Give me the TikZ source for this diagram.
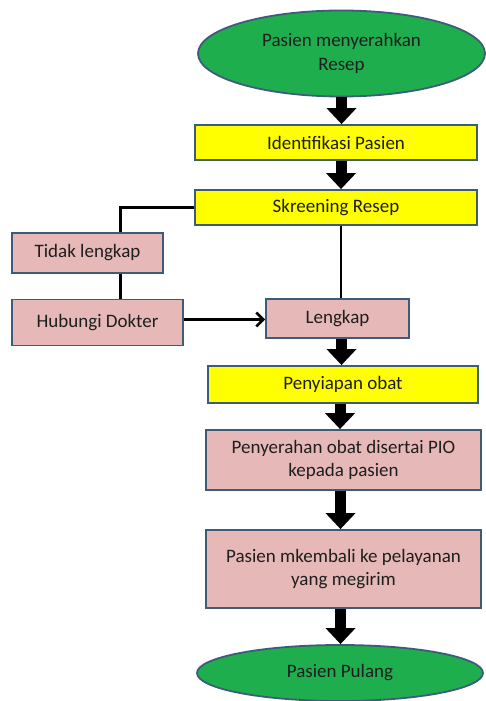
\documentclass[tikz,border=0pt]{standalone}
\usepackage{fontspec}
\setmainfont{Carlito}
\usetikzlibrary{shapes.geometric,arrows.meta}
\definecolor{edgeblue}{HTML}{3E5C7A}
\definecolor{ovalgreen}{HTML}{1FAE4E}
\definecolor{boxyellow}{HTML}{FFFF00}
\definecolor{boxpink}{HTML}{E6B9B8}
\definecolor{txt}{HTML}{1E1E1E}
\begin{document}
\begin{tikzpicture}[x=1pt,y=-1pt,
  base/.style={draw=edgeblue,line width=1.8pt,text=txt,font=\fontsize{19}{23.5}\selectfont,align=center,inner sep=0pt},
  oval/.style={base,ellipse,fill=ovalgreen},
  ybox/.style={base,rectangle,fill=boxyellow},
  pbox/.style={base,rectangle,fill=boxpink},
  bigarrow/.style={line width=11pt,-{Triangle[width=29pt,length=16pt]}},
  thin/.style={line width=2.6pt,black}
]
\useasboundingbox (0,0) rectangle (486,701);
\node[oval,minimum width=287pt,minimum height=86pt] (start) at (341.5,53.5) {\raisebox{-3pt}{\parbox{200pt}{\centering Pasien menyerahkan\\Resep}}};
\node[ybox,minimum width=282pt,minimum height=35pt] (id) at (336,142.5) {Identifikasi Pasien};
\node[ybox,minimum width=282pt,minimum height=35pt] (sk) at (336,207.5) {Skreening Resep};
\node[pbox,minimum width=151pt,minimum height=40pt] (tl) at (87.5,253) {Tidak lengkap};
\node[pbox,minimum width=171pt,minimum height=46pt] (hd) at (97.5,322.5) {Hubungi Dokter};
\node[pbox,minimum width=143pt,minimum height=39pt] (lk) at (337.5,318.5) {Lengkap};
\node[ybox,minimum width=270pt,minimum height=37pt] (po) at (343,384.5) {Penyiapan obat};
\node[pbox,minimum width=275pt,minimum height=60pt] (pe) at (343.5,460) {Penyerahan obat disertai PIO\\kepada pasien};
\node[pbox,minimum width=275pt,minimum height=78pt] (pm) at (343.5,569) {Pasien mkembali ke pelayanan\\yang megirim};
\node[oval,minimum width=286pt,minimum height=56pt] (end) at (340,673) {Pasien Pulang};

\draw[bigarrow] (start.south) -- (start.south |- id.north);
\draw[bigarrow] ([xshift=5pt]id.south) -- ([xshift=5pt]id.south |- sk.north);
\draw[bigarrow] ([xshift=4pt]lk.south) -- ([xshift=4pt]lk.south |- po.north);
\draw[bigarrow] ([xshift=-3pt]po.south) -- ([xshift=-3pt]po.south |- pe.north);
\draw[bigarrow] ([xshift=-3pt]pe.south) -- ([xshift=-3pt]pe.south |- pm.north);
\draw[bigarrow] ([xshift=-3pt]pm.south) -- ([xshift=-3pt]pm.south |- end.north);

\draw[thin] (sk.west) -| ([xshift=33pt]tl.north);
\draw[thin] ([xshift=33pt]tl.south) -- ([xshift=33pt]tl.south |- hd.north);
\draw[thin] ([xshift=5pt]sk.south) -- ([xshift=5pt]sk.south |- lk.north);
\draw[thin,-{Straight Barb[length=7pt,width=14pt]}] ([yshift=3pt]hd.east) -- ([yshift=3pt]hd.east -| lk.west);
\end{tikzpicture}
\end{document}
